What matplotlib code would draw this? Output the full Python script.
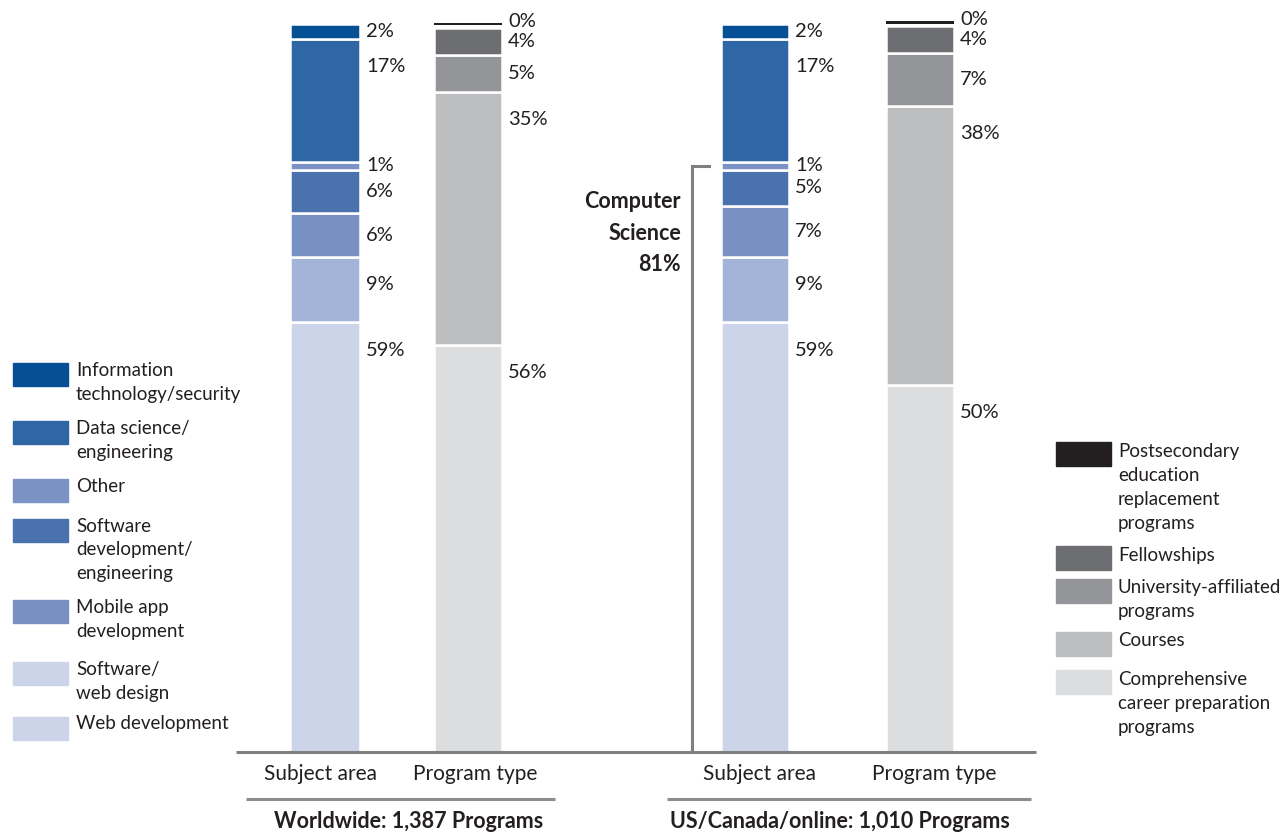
import matplotlib.pyplot as plt
from matplotlib.patches import Rectangle

plt.rcParams['font.family'] = ['Lato', 'DejaVu Sans']

# 数据（自下而上堆叠）
subject_names = ["Web development", "Software/\nweb design", "Mobile app\ndevelopment",
                 "Software\ndevelopment/\nengineering", "Other", "Data science/\nengineering",
                 "Information\ntechnology/security"]
subject_world = [59, 9, 6, 6, 1, 17, 2]
subject_us = [59, 9, 7, 5, 1, 17, 2]
subject_colors = ["#cbd4e8", "#a3b4d8", "#7891c2", "#4a72ae", "#7a93c4", "#2f66a6", "#054f95"]
subject_legend_colors = ["#cbd4e8", "#cbd4e8", "#7891c2", "#4a72ae", "#7a93c4", "#2f66a6", "#054f95"]

program_names = ["Comprehensive\ncareer preparation\nprograms", "Courses",
                 "University-affiliated\nprograms", "Fellowships",
                 "Postsecondary\neducation\nreplacement\nprograms"]
# 柱高按图估读，标签取整
program_world = [55.9, 34.8, 5.1, 3.7, 0.3]
program_us = [50.4, 38.3, 7.3, 3.7, 0.3]
program_colors = ["#dcdddf", "#bdbec0", "#939598", "#6d6e71", "#231f20"]

group_titles = ["Worldwide: 1,387 Programs", "US/Canada/online: 1,010 Programs"]
bar_titles = ["Subject area", "Program type", "Subject area", "Program type"]
cs_label = "Computer\nScience\n81%"

W, H = 1288, 833
fig = plt.figure(figsize=(W / 100, H / 100), dpi=100)

# 柱状图坐标轴：0% 在像素 752，100% 在像素 24
ax = fig.add_axes([0, (H - 752) / H, 1, (752 - 24) / H])
ax.set_xlim(0, W)
ax.set_ylim(0, 100)
ax.axis('off')

# 标注用的像素坐标轴
ov = fig.add_axes([0, 0, 1, 1], zorder=5)
ov.set_xlim(0, W)
ov.set_ylim(H, 0)
ov.axis('off')
ov.patch.set_alpha(0)

bars = [(325, 70, subject_world, subject_colors),
        (468, 68, program_world, program_colors),
        (755, 68, subject_us, subject_colors),
        (920, 68, program_us, program_colors)]

for x, w, vals, cols in bars:
    bottom = 0
    for v, c in zip(vals, cols):
        label = f"{round(v)}%"
        if round(v) == 0:
            # 0% 只画一条细线
            ax.bar(x, v, width=w, bottom=bottom + 0.35, color=c, linewidth=0, clip_on=False)
            ax.text(x + w / 2 + 6, bottom + 0.9, label, ha='left', va='center',
                    fontsize=14.5, color='#231f20', clip_on=False)
            continue
        ax.bar(x, v, width=w, bottom=bottom, color=c, edgecolor='white', linewidth=1.8,
               clip_on=False)
        top = bottom + v
        ty = top - min(v / 2, 3.8)
        ax.text(x + w / 2 + 6, ty, label, ha='left', va='center', fontsize=14.5,
                color='#231f20', clip_on=False)
        bottom = top

# 基线与分组线
gray = '#808080'
ov.plot([236, 1036], [752, 752], color=gray, lw=2.2, solid_capstyle='butt')
ov.plot([246, 555], [799, 799], color='#8c8c8c', lw=2.2, solid_capstyle='butt')
ov.plot([667, 1031], [799, 799], color='#8c8c8c', lw=2.2, solid_capstyle='butt')

for tx, t in zip([321, 475, 760, 934], bar_titles):
    ov.text(tx, 774, t, ha='center', va='center', fontsize=15, color='#231f20')
ov.text(409, 822, group_titles[0], ha='center', va='center', fontsize=15.5,
        fontweight='bold', color='#231f20')
ov.text(840, 822, group_titles[1], ha='center', va='center', fontsize=15.5,
        fontweight='bold', color='#231f20')

# Computer Science 括号
ov.plot([709, 692, 692], [166, 166, 752], color=gray, lw=2.2, solid_joinstyle='miter')
ov.text(681, 233, cs_label, ha='right', va='center', fontsize=15.5, fontweight='bold',
        color='#231f20', linespacing=1.6)

# 图例（手动绘制，色块与第一行文字对齐）
line_h = 24
left_tops = [363, 421, 479, 519, 600, 662, 717]
for name, col, y in zip(subject_names[::-1], subject_legend_colors[::-1], left_tops):
    ov.add_patch(Rectangle((13, y), 55, 23, color=col))
    for k, ln in enumerate(name.split("\n")):
        ov.text(76, y + 7 + k * line_h, ln, ha='left', va='center', fontsize=13.5, color='#231f20')

right_tops = [442, 546, 579, 632, 670]
for name, col, y in zip(program_names[::-1], program_colors[::-1], right_tops):
    ov.add_patch(Rectangle((1056, y), 55, 24, color=col))
    for k, ln in enumerate(name.split("\n")):
        ov.text(1118, y + 9 + k * line_h, ln, ha='left', va='center', fontsize=13.5, color='#231f20')

fig.savefig("out.png", dpi=100)
